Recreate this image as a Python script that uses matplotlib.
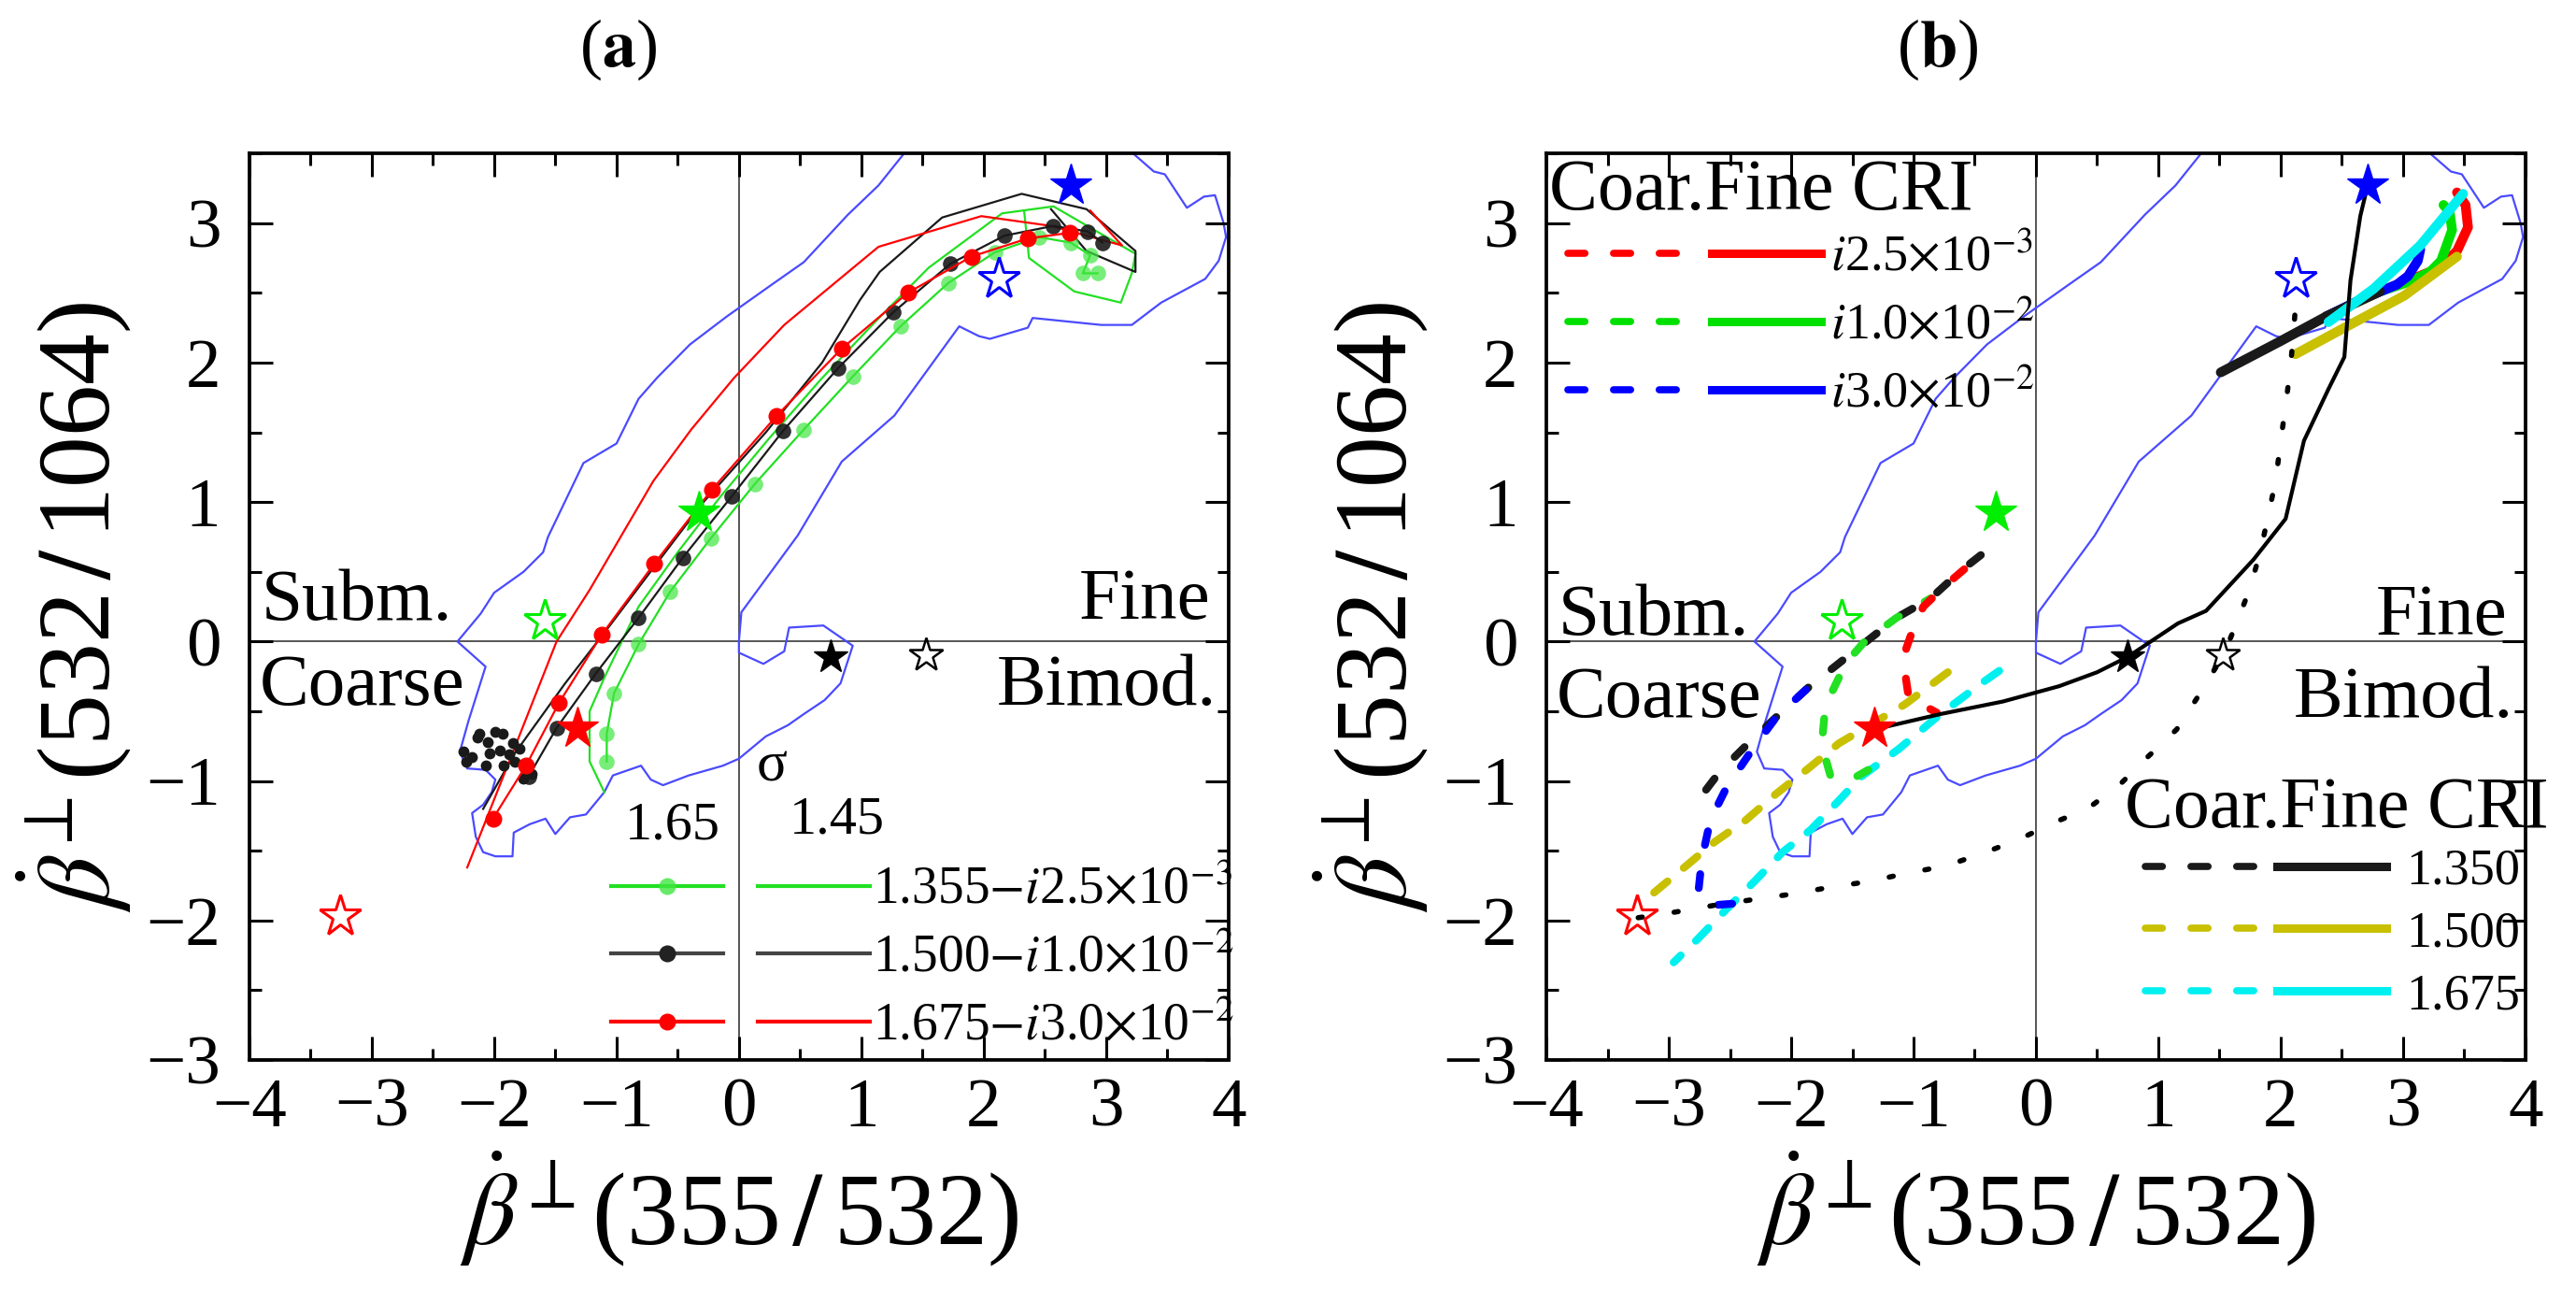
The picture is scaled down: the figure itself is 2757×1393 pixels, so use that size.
import matplotlib
matplotlib.use('Agg')
import matplotlib.pyplot as plt
from matplotlib.lines import Line2D
from matplotlib.legend_handler import HandlerTuple
from matplotlib.ticker import MultipleLocator

plt.rcParams['font.family'] = ['Liberation Serif', 'DejaVu Serif']
plt.rcParams['mathtext.fontset'] = 'stix'

# ---------------- data ----------------
x_ticks = [-4, -3, -2, -1, 0, 1, 2, 3, 4]
y_ticks = [-3, -2, -1, 0, 1, 2, 3]

# envelope of observations (blue contour), shared by both panels
contour_x = [0.00, 0.00, 0.20, 0.37, 0.41, 0.69, 0.93, 0.83, 0.70, 0.53, 0.40, 0.22, 0.00, -0.13,
             -0.41, -0.62, -0.72, -0.80, -1.03, -1.10, -1.25, -1.38, -1.50, -1.58, -1.71, -1.84,
             -1.85, -1.99, -2.09, -2.15, -2.18, -2.09, -2.02, -1.99, -2.07, -2.22, -2.28, -2.21,
             -2.07, -2.30, -2.11, -2.00, -1.76, -1.60, -1.56, -1.27, -1.00, -0.82, -0.67, -0.40,
             -0.10, 0.27, 0.53, 0.89, 1.14, 1.35, 1.40, 3.15, 3.22, 3.39, 3.48, 3.66, 3.80, 3.89,
             3.96, 3.98, 3.92, 3.81, 3.45, 3.21, 2.96, 2.40, 2.36, 2.05, 1.96, 1.80, 1.27, 0.84,
             0.48, 0.02, 0.00]
contour_y = [0.00, -0.08, -0.16, -0.07, 0.10, 0.115, -0.03, -0.30, -0.42, -0.52, -0.60, -0.68, -0.84,
             -0.89, -0.96, -1.03, -0.99, -0.89, -0.96, -1.08, -1.24, -1.26, -1.38, -1.27, -1.31,
             -1.37, -1.54, -1.54, -1.51, -1.40, -1.23, -1.17, -1.08, -0.99, -0.92, -0.91, -0.79,
             -0.57, -0.18, 0.00, 0.20, 0.35, 0.50, 0.64, 0.75, 1.28, 1.42, 1.74, 1.89, 2.13, 2.33,
             2.56, 2.72, 3.06, 3.27, 3.50, 3.65, 3.65, 3.50, 3.37, 3.35, 3.11, 3.19, 3.20, 3.00,
             2.90, 2.73, 2.60, 2.43, 2.27, 2.27, 2.32, 2.25, 2.17, 2.19, 2.26, 1.62, 1.29, 0.76,
             0.21, 0.00]

# stars (same in both panels)
star_fill_x = [2.71, -0.33, -1.32]
star_fill_y = [3.27, 0.93, -0.62]
star_fill_c = ['#0000ff', '#00ee00', '#ff0000']
star_open_x = [2.12, -1.59, -3.26]
star_open_y = [2.60, 0.15, -1.97]
star_open_c = ['#0000ff', '#00ee00', '#ff0000']
star_black_fill = (0.75, -0.11)
star_black_open = (1.53, -0.10)

# panel (a): sigma = 1.65 (dots) and sigma = 1.45 (plain lines)
a_green_dots_x = [-1.08, -1.08, -1.02, -0.82, -0.56, -0.23, 0.13, 0.53, 0.93, 1.32, 1.71, 2.09,
                  2.45, 2.71, 2.87, 2.81, 2.93]
a_green_dots_y = [-0.86, -0.66, -0.37, -0.02, 0.36, 0.74, 1.13, 1.52, 1.90, 2.26, 2.57, 2.79,
                  2.90, 2.86, 2.77, 2.64, 2.64]
a_black_dots_x = [-1.72, -1.49, -1.17, -0.82, -0.46, -0.06, 0.36, 0.81, 1.26, 1.73, 2.17, 2.57,
                  2.85, 2.97]
a_black_dots_y = [-0.97, -0.62, -0.23, 0.17, 0.60, 1.04, 1.51, 1.96, 2.36, 2.71, 2.91, 2.98,
                  2.94, 2.86]
a_black_cluster_x = [-2.12, -1.99, -1.93, -1.85, -1.79, -1.95, -2.04, -2.25, -2.23, -2.07, -1.92,
                     -1.83, -2.14, -1.76, -1.69, -2.05, -1.88, -2.18]
a_black_cluster_y = [-0.66, -0.65, -0.66, -0.73, -0.77, -0.78, -0.80, -0.79, -0.86, -0.89, -0.89,
                     -0.86, -0.69, -0.98, -0.95, -0.72, -0.81, -0.83]
a_red_dots_x = [-2.01, -1.74, -1.47, -1.12, -0.69, -0.22, 0.31, 0.84, 1.38, 1.90, 2.36, 2.70]
a_red_dots_y = [-1.27, -0.89, -0.44, 0.05, 0.56, 1.09, 1.62, 2.10, 2.50, 2.76, 2.89, 2.93]

a_green_line_x = [-1.10, -1.22, -1.22, -1.10, -0.82, -0.50, -0.15, 0.25, 0.67, 1.10, 1.55, 2.15,
                  2.57, 3.24, 3.21, 3.12, 2.74, 2.37, 2.33]
a_green_line_y = [-1.08, -0.86, -0.50, -0.26, 0.25, 0.64, 1.04, 1.46, 1.88, 2.28, 2.68, 3.07,
                  3.12, 2.78, 2.64, 2.43, 2.51, 2.75, 3.09]
a_black_line_x = [-2.09, -1.83, -1.42, -1.05, -0.68, -0.29, 0.22, 0.68, 0.99, 1.15, 1.66, 2.31,
                  2.84, 3.24, 3.24, 2.84, 2.55]
a_black_line_y = [-1.20, -0.80, -0.30, 0.12, 0.55, 1.00, 1.50, 2.00, 2.45, 2.65, 3.04, 3.21,
                  3.10, 2.80, 2.65, 2.80, 3.10]
a_red_line_x = [-2.22, -1.85, -1.49, -1.22, -0.96, -0.70, -0.39, -0.04, 0.37, 1.14, 1.98, 2.55,
                3.13, 2.87]
a_red_line_y = [-1.62, -0.80, 0.00, 0.37, 0.76, 1.15, 1.52, 1.89, 2.27, 2.83, 3.05, 2.98,
                2.84, 3.09]

a_labels = [r'1.355$-i$2.5$\times$10$^{-3}$', r'1.500$-i$1.0$\times$10$^{-2}$',
            r'1.675$-i$3.0$\times$10$^{-2}$']

# panel (b): path lines
b_solid_x = [-1.32, -0.78, -0.27, 0.19, 0.50, 0.75, 1.16, 1.39, 1.78, 2.04, 2.19, 2.39, 2.52,
             2.57, 2.65, 2.71]
b_solid_y = [-0.63, -0.52, -0.43, -0.32, -0.22, -0.11, 0.13, 0.22, 0.59, 0.88, 1.44, 1.81, 2.04,
             2.59, 3.05, 3.27]
b_dot_x = [-3.25, -2.95, -2.62, -2.31, -1.99, -1.67, -1.36, -1.05, -0.74, -0.44, -0.14, 0.14,
           0.42, 0.68, 0.91, 1.15, 1.32, 1.53, 1.62, 1.74, 1.83, 1.90, 1.96, 2.00, 2.04, 2.08,
           2.11, 2.13]
b_dot_y = [-1.98, -1.94, -1.89, -1.85, -1.81, -1.76, -1.72, -1.66, -1.61, -1.52, -1.42, -1.30,
           -1.20, -1.03, -0.83, -0.63, -0.40, -0.10, 0.09, 0.36, 0.63, 0.91, 1.16, 1.44, 1.69,
           1.97, 2.27, 2.55]

# coarse mode (dashed)
coarse_black_x = [-0.45, -0.61, -0.86, -1.14, -1.40, -1.63, -1.86, -2.12, -2.35, -2.58, -2.78]
coarse_black_y = [0.62, 0.51, 0.31, 0.17, -0.01, -0.17, -0.33, -0.54, -0.73, -0.93, -1.16]
coarse_red_x = [-0.45, -0.73, -0.92, -1.00, -1.06, -1.07, -1.04, -0.81]
coarse_red_y = [0.62, 0.41, 0.25, 0.10, -0.05, -0.22, -0.40, -0.51]
coarse_green_x = [-0.86, -1.14, -1.40, -1.55, -1.66, -1.73, -1.75, -1.68, -1.53, -1.37]
coarse_green_y = [0.31, 0.17, 0.00, -0.15, -0.35, -0.55, -0.74, -0.96, -1.00, -0.92]
coarse_blue_x = [-1.86, -2.12, -2.33, -2.53, -2.66, -2.73, -2.76, -2.63, -2.48]
coarse_blue_y = [-0.33, -0.54, -0.79, -1.05, -1.28, -1.56, -1.81, -1.89, -1.88]
coarse_olive_x = [-0.72, -1.07, -1.61, -1.86, -2.12, -2.37, -2.63, -2.86, -3.12]
coarse_olive_y = [-0.22, -0.45, -0.73, -0.91, -1.09, -1.28, -1.44, -1.61, -1.80]
coarse_cyan_x = [-0.30, -0.43, -0.78, -1.12, -1.43, -1.61, -1.84, -2.07, -2.30, -2.53, -2.76, -2.96]
coarse_cyan_y = [-0.21, -0.29, -0.52, -0.77, -0.97, -1.14, -1.35, -1.51, -1.72, -1.92, -2.13, -2.30]

# fine mode (solid)
fine_red_x = [2.37, 2.81, 3.05, 3.30, 3.44, 3.53, 3.51, 3.44]
fine_red_y = [2.33, 2.51, 2.59, 2.68, 2.80, 2.97, 3.13, 3.22]
fine_green_x = [2.37, 2.81, 3.05, 3.22, 3.31, 3.40, 3.38, 3.33]
fine_green_y = [2.33, 2.51, 2.58, 2.65, 2.73, 2.95, 3.08, 3.13]
fine_blue_x = [2.37, 2.65, 2.95, 3.04, 3.12, 3.14]
fine_blue_y = [2.33, 2.45, 2.56, 2.62, 2.73, 2.81]
fine_black_x = [1.51, 1.99, 2.37, 2.81]
fine_black_y = [1.93, 2.15, 2.33, 2.51]
fine_olive_x = [2.12, 2.50, 3.01, 3.44]
fine_olive_y = [2.06, 2.24, 2.48, 2.76]
fine_cyan_x = [2.39, 2.76, 3.14, 3.49]
fine_cyan_y = [2.29, 2.53, 2.84, 3.21]

b_legend_title = 'Coar.Fine CRI'
b_imag_labels = [r'$i$2.5$\times$10$^{-3}$', r'$i$1.0$\times$10$^{-2}$', r'$i$3.0$\times$10$^{-2}$']
b_real_labels = ['1.350', '1.500', '1.675']

# ---------------- styles ----------------
GREEN = '#22e022'
RED = '#ff0000'
BLACK = '#1a1a1a'
BLUE = '#0000ff'
OLIVE = '#c8c000'
CYAN = '#00f0f0'
CONTOUR = '#4a4aff'

fig = plt.figure(figsize=(27.57, 13.93), dpi=100)
axa = fig.add_axes([0.0968, 0.1859, 0.3801, 0.6963])
axb = fig.add_axes([0.6003, 0.1859, 0.3801, 0.6963])


def style_axes(ax):
    ax.set_xlim(-4, 4)
    ax.set_ylim(-3, 3.5)
    ax.set_xticks(x_ticks)
    ax.set_yticks(y_ticks)
    ax.xaxis.set_minor_locator(MultipleLocator(0.5))
    ax.yaxis.set_minor_locator(MultipleLocator(0.5))
    ax.tick_params(which='both', direction='in', top=True, right=True, width=2.2,
                   labelsize=54)
    ax.tick_params(which='major', length=18)
    ax.tick_params(which='minor', length=9)
    ax.tick_params(axis='x', which='major', pad=14)
    ax.tick_params(axis='y', which='major', pad=22)
    for s in ax.spines.values():
        s.set_linewidth(2.7)
    ax.axhline(0, color='#555555', lw=1.4, zorder=1)
    ax.axvline(0, color='#555555', lw=1.4, zorder=1)
    ax.plot(contour_x, contour_y, color=CONTOUR, lw=1.6, zorder=1.5)
    ax.set_xlabel(r'$\dot{\beta}^{\perp}$(355$\,/\,$532)', fontsize=79, labelpad=6)
    ax.set_ylabel(r'$\dot{\beta}^{\perp}$(532$\,/\,$1064)', fontsize=79, labelpad=10)


def draw_stars(ax):
    for x, y, c in zip(star_fill_x, star_fill_y, star_fill_c):
        ax.plot([x], [y], marker='*', ms=33, color=c, mec=c, ls='none', zorder=6)
    for x, y, c in zip(star_open_x, star_open_y, star_open_c):
        ax.plot([x], [y], marker='*', ms=33, mfc='none', mec=c, mew=2.2, ls='none', zorder=6)
    ax.plot([star_black_fill[0]], [star_black_fill[1]], marker='*', ms=27, color='k', ls='none',
            zorder=6)
    ax.plot([star_black_open[0]], [star_black_open[1]], marker='*', ms=27, mfc='none', mec='k',
            mew=1.8, ls='none', zorder=6)


def label_corners(ax, y_top, y_bot):
    kw = dict(fontsize=57, va='baseline', zorder=7)
    ax.text(-3.9, y_top, 'Subm.', ha='left', **kw)
    ax.text(3.85, y_top, 'Fine', ha='right', **kw)
    ax.text(-3.92, y_bot, 'Coarse', ha='left', **kw)
    ax.text(3.9, y_bot, 'Bimod.', ha='right', **kw)


# ---------------- panel (a) ----------------
style_axes(axa)
label_corners(axa, 0.16, -0.45)

line_kw = dict(lw=1.6, zorder=3)
axa.plot(a_green_line_x, a_green_line_y, color=GREEN, **line_kw)
axa.plot(a_black_line_x, a_black_line_y, color=BLACK, **line_kw)
axa.plot(a_red_line_x, a_red_line_y, color=RED, **line_kw)

axa.plot(a_green_dots_x, a_green_dots_y, color=GREEN, lw=1.6, marker='o', ms=12,
         mfc=(0.25, 0.9, 0.25, 0.7), mec='none', zorder=4)
axa.plot(a_black_dots_x, a_black_dots_y, color=BLACK, lw=1.6, marker='o', ms=12,
         mfc=(0.1, 0.1, 0.1, 0.9), mec='none', zorder=4)
axa.plot(a_black_cluster_x, a_black_cluster_y, color=BLACK, ls='none', marker='o', ms=7.5,
         zorder=4)
axa.plot(a_red_dots_x, a_red_dots_y, color=RED, lw=1.6, marker='o', ms=13, mec='none',
         zorder=4.5)
draw_stars(axa)

hs = []
for col, mfc in [(GREEN, (0.25, 0.9, 0.25, 0.8)), ('#444444', '#222222'), (RED, RED)]:
    h1 = Line2D([], [], color=col, lw=3, marker='o', ms=13, mfc=mfc, mec='none')
    h2 = Line2D([], [], color=col, lw=3)
    hs.append((h1, h2))
leg_a = axa.legend(hs, a_labels, handler_map={tuple: HandlerTuple(ndivide=None, pad=0.66)},
                   loc='lower left', bbox_to_anchor=(0.369, 0.010), frameon=False, fontsize=40,
                   handlelength=5.0, handletextpad=0.05, labelspacing=0.37, borderpad=0,
                   borderaxespad=0)
axa.text(0.27, -0.90, 'σ', fontsize=44, ha='center', va='center')
axa.text(-0.54, -1.32, '1.65', fontsize=42, ha='center', va='center')
axa.text(0.80, -1.28, '1.45', fontsize=42, ha='center', va='center')

# ---------------- panel (b) ----------------
style_axes(axb)
label_corners(axb, 0.05, -0.54)

LW_C = 6.0
D_single = (2.3, 2.7)
D_pair = (1.8, 3.8)
dash_kw = dict(lw=LW_C, dash_capstyle='round', zorder=3)
axb.plot(coarse_olive_x, coarse_olive_y, color=OLIVE, ls=(0, D_single), **dash_kw)
axb.plot(coarse_cyan_x, coarse_cyan_y, color=CYAN, ls=(0, D_single), **dash_kw)
axb.plot(coarse_black_x, coarse_black_y, color=BLACK, ls=(0, D_pair), **dash_kw)
axb.plot(coarse_blue_x, coarse_blue_y, color=BLUE, ls=(5.2, D_pair), **dash_kw)
axb.plot(coarse_green_x, coarse_green_y, color=GREEN, ls=(0.9, D_pair), **dash_kw)
axb.plot(coarse_red_x, coarse_red_y, color=RED, ls=(2.8, D_pair), **dash_kw)

fine_kw = dict(lw=7.5, solid_capstyle='round', zorder=3.5)
axb.plot(fine_red_x, fine_red_y, color=RED, **fine_kw)
axb.plot(fine_green_x, fine_green_y, color='#00e000', **fine_kw)
axb.plot(fine_blue_x, fine_blue_y, color=BLUE, **fine_kw)
axb.plot(fine_black_x, fine_black_y, color=BLACK, **fine_kw)
axb.plot(fine_olive_x, fine_olive_y, color=OLIVE, **fine_kw)
axb.plot(fine_cyan_x, fine_cyan_y, color=CYAN, **fine_kw)

axb.plot(b_solid_x, b_solid_y, color='k', lw=3, zorder=5)
axb.plot(b_dot_x, b_dot_y, color='k', lw=4, ls=(0, (0.8, 6.2)), dash_capstyle='round',
         zorder=5)
draw_stars(axb)


def pair(col):
    return (Line2D([], [], color=col, lw=5.5, ls=(0, (2.4, 4.0)), dash_capstyle='round'),
            Line2D([], [], color=col, lw=6.5))


leg_b1 = axb.legend([pair(RED), pair('#00e000'), pair(BLUE)], b_imag_labels,
                    handler_map={tuple: HandlerTuple(ndivide=None, pad=0.68)},
                    loc='upper left', bbox_to_anchor=(0.022, 0.910), frameon=False, fontsize=39,
                    handlelength=5.0, handletextpad=0.19, labelspacing=0.40, borderpad=0,
                    borderaxespad=0)
axb.add_artist(leg_b1)
leg_b2 = axb.legend([pair(BLACK), pair(OLIVE), pair(CYAN)], b_real_labels,
                    handler_map={tuple: HandlerTuple(ndivide=None, pad=0.43)},
                    loc='upper left', bbox_to_anchor=(0.612, 0.234), frameon=False, fontsize=39,
                    handlelength=4.76, handletextpad=0.39, labelspacing=0.30, borderpad=0,
                    borderaxespad=0)
axb.text(0.003, 0.938, b_legend_title, transform=axb.transAxes, fontsize=56, ha='left',
         va='baseline', zorder=7)
axb.text(0.591, 0.257, b_legend_title, transform=axb.transAxes, fontsize=56, ha='left',
         va='baseline', zorder=7)

fig.text(0.240, 0.962, r'($\mathbf{a}$)', fontsize=52, ha='center', va='center')
fig.text(0.752, 0.962, r'($\mathbf{b}$)', fontsize=52, ha='center', va='center')

fig.savefig('out.png', dpi=100)
